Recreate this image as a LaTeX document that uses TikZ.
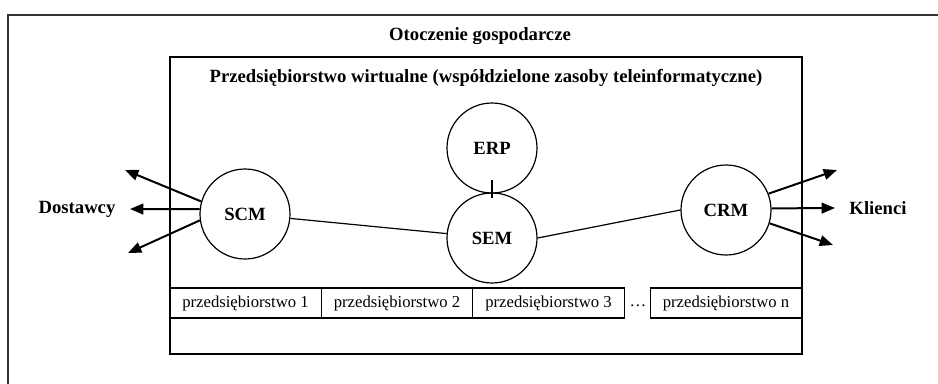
\documentclass[tikz,border=0pt]{standalone}
\usepackage{fontspec}
\setmainfont{Liberation Serif}
\usepackage{tikz}
\usetikzlibrary{positioning,calc}
\usetikzlibrary{arrows.meta}
\tikzstyle{modul} = [circle, minimum size=67.5pt, inner sep=0pt, text centered, draw=black, line width=0.9pt, font=\fontsize{14}{16}\selectfont\bfseries]
\tikzstyle{firma} = [rectangle, minimum width=113.5pt, minimum height=22.5pt, inner sep=0pt, text centered, draw=black, line width=0.9pt, font=\fontsize{12.5}{14}\selectfont]
\tikzstyle{etykieta} = [font=\fontsize{14}{16}\selectfont\bfseries]
\tikzstyle{strzalka} = [line width=1.5pt, -{Triangle[length=10pt,width=8pt]}]
\tikzstyle{linia} = [line width=0.9pt]

\begin{document}
\begin{tikzpicture}[x=0.75pt,y=-0.75pt]
	\useasboundingbox (0,0) rectangle (938,383);
	\clip (0,0) rectangle (938,383);
	\draw[line width=1.6pt, black!80] (8,15) rectangle (960,400);
	\node (otoczenie) at (480,36) [etykieta] {Otoczenie gospodarcze};
	\node (wirtualne) at (486,205.5) [draw=black, line width=1.1pt, minimum width=474pt, minimum height=222.75pt] {};
	\node (tytul) at (486,78) [etykieta] {Przedsiębiorstwo wirtualne (współdzielone zasoby teleinformatyczne)};
	\node (erp) at (492,148) [modul] {ERP};
	\node (sem) at (492,238) [modul] {SEM};
	\node (scm) at (245,214) [modul] {SCM};
	\node (crm) at (726,210) [modul] {CRM};
	\node (f1) at (245.5,303) [firma] {przedsiębiorstwo 1};
	\node (f2) at (397,303) [firma] {przedsiębiorstwo 2};
	\node (f3) at (548.5,303) [firma] {przedsiębiorstwo 3};
	\node (kropki) at (638,306) [font=\fontsize{12.5}{14}\selectfont] {…};
	\node (fn) at (726,303) [firma] {przedsiębiorstwo n};
	\node (dostawcy) at (77,209) [etykieta] {Dostawcy};
	\node (klienci) at (878,208) [etykieta] {Klienci};
	\coordinate (d1) at (125,170);
	\coordinate (d2) at (130,209);
	\coordinate (d3) at (128,253);
	\coordinate (k1) at (837,170);
	\coordinate (k2) at (835,208);
	\coordinate (k3) at (833,245);
	\draw[linia] (scm) -- (sem);
	\draw[linia] (sem.east) -- (crm.west);
	\draw[linia] ([yshift=10.5pt]erp.south) -- ([yshift=-4.5pt]sem.north);
	\draw[strzalka] (scm.164) -- (d1);
	\draw[strzalka] (scm.174) -- (d2);
	\draw[strzalka] (scm.188) -- (d3);
	\draw[strzalka] (crm.21) -- (k1);
	\draw[strzalka] (crm.2) -- (k2);
	\draw[strzalka] (crm.-17) -- (k3);
\end{tikzpicture}
\end{document}
